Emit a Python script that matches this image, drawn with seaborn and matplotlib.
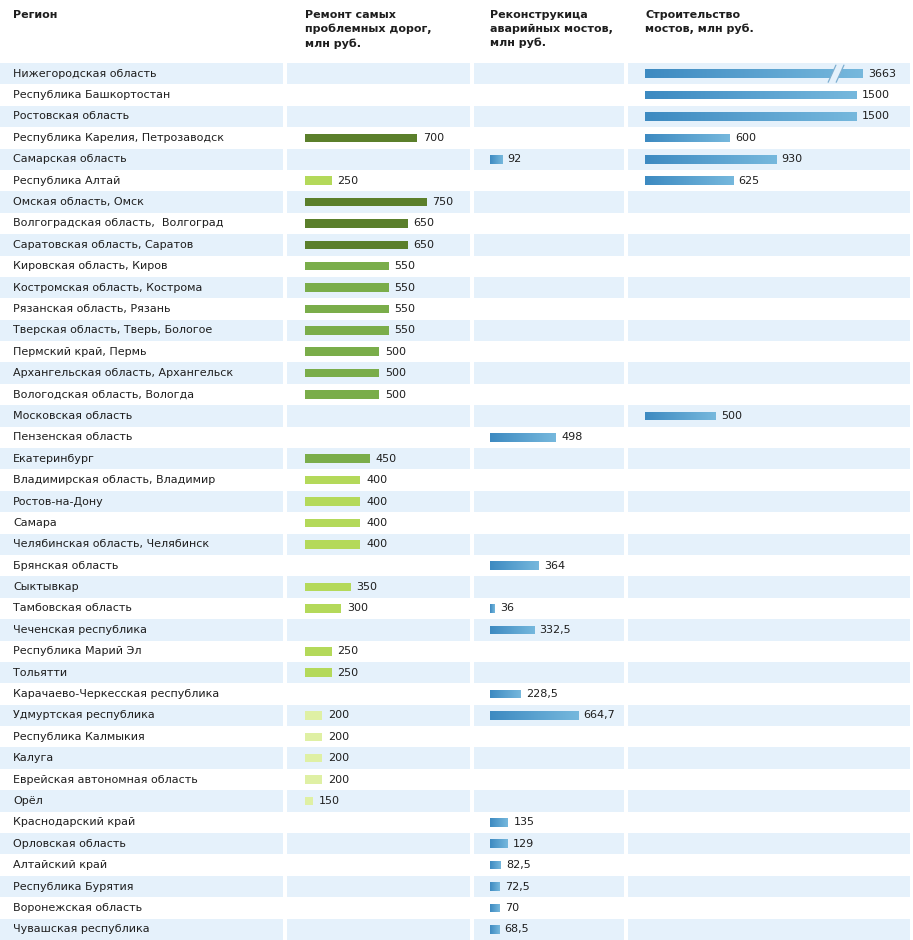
import numpy as np
import pandas as pd
import matplotlib
matplotlib.use("Agg")
import matplotlib.pyplot as plt
from matplotlib.colors import LinearSegmentedColormap
import seaborn as sns

regions = [
    "Нижегородская область", "Республика Башкортостан", "Ростовская область",
    "Республика Карелия, Петрозаводск", "Самарская область", "Республика Алтай",
    "Омская область, Омск", "Волгоградская область,  Волгоград", "Саратовская область, Саратов",
    "Кировская область, Киров", "Костромская область, Кострома", "Рязанская область, Рязань",
    "Тверская область, Тверь, Бологое", "Пермский край, Пермь", "Архангельская область, Архангельск",
    "Вологодская область, Вологда", "Московская область", "Пензенская область",
    "Екатеринбург", "Владимирская область, Владимир", "Ростов-на-Дону", "Самара",
    "Челябинская область, Челябинск", "Брянская область", "Сыктывкар", "Тамбовская область",
    "Чеченская республика", "Республика Марий Эл", "Тольятти",
    "Карачаево-Черкесская республика", "Удмуртская республика", "Республика Калмыкия",
    "Калуга", "Еврейская автономная область", "Орёл", "Краснодарский край",
    "Орловская область", "Алтайский край", "Республика Бурятия", "Воронежская область",
    "Чувашская республика",
]
nan = np.nan
road_repair = [nan, nan, nan, 700, nan, 250, 750, 650, 650, 550, 550, 550, 550, 500, 500, 500,
               nan, nan, 450, 400, 400, 400, 400, nan, 350, 300, nan, 250, 250, nan, 200, 200,
               200, 200, 150, nan, nan, nan, nan, nan, nan]
bridge_repair = [nan, nan, nan, nan, 92, nan, nan, nan, nan, nan, nan, nan, nan, nan, nan, nan,
                 nan, 498, nan, nan, nan, nan, nan, 364, nan, 36, 332.5, nan, nan, 228.5, 664.7,
                 nan, nan, nan, nan, 135, 129, 82.5, 72.5, 70, 68.5]
bridge_build = [3663, 1500, 1500, 600, 930, 625, nan, nan, nan, nan, nan, nan, nan, nan, nan, nan,
                500, nan, nan, nan, nan, nan, nan, nan, nan, nan, nan, nan, nan, nan, nan,
                nan, nan, nan, nan, nan, nan, nan, nan, nan, nan]

headers = ["Регион", "Ремонт самых\nпроблемных дорог,\nмлн руб.",
           "Реконструкица\nаварийных мостов,\nмлн руб.", "Строительство\nмостов, млн руб."]

W, H = 913, 940
TOP = 63
BAND = "#E5F1FB"
TEXT = "#1E1E1E"
FS = 8
ROAD_BASE = 108      # road bars in the original do not start at zero
BUILD_CAP = 1546     # the 3663 bar is drawn broken
TIER_COLORS = {"dark": "#5B7F2B", "mid": "#7AAD4A", "light": "#B4D95A", "pale": "#DFF0A4"}
BLUE_CMAP = LinearSegmentedColormap.from_list("bar", ["#3D8AC1", "#76B8DD"])
BAR_W = 0.4

sns.set_theme(style="white")
plt.rcParams["font.family"] = ["DejaVu Sans"]


def tier(v):
    if np.isnan(v):
        return np.nan
    if v >= 600:
        return "dark"
    if v >= 450:
        return "mid"
    if v >= 250:
        return "light"
    return "pale"


def fmt(v):
    return f"{v:g}".replace(".", ",")


df = pd.DataFrame({"region": regions, "road": road_repair,
                   "repair": bridge_repair, "build": bridge_build})
df["tier"] = [tier(v) for v in df["road"]]
df["road_len"] = df["road"] - ROAD_BASE
df["build_len"] = np.minimum(df["build"], BUILD_CAP)

n = len(regions)
fig = plt.figure(figsize=(W / 100, H / 100), dpi=100)


def px_axes(x0, x1):
    ax = fig.add_axes([x0 / W, 0, (x1 - x0) / W, (H - TOP) / H])
    return ax


def finish(ax, xlim):
    for i in range(0, n, 2):
        ax.axhspan(i - 0.5, i + 0.5, color=BAND, lw=0, zorder=0)
    ax.set_xlim(*xlim)
    ax.set_ylim(n - 0.5, -0.5)
    ax.axis("off")


def paint_gradient(ax):
    grad = np.linspace(0, 1, 256).reshape(1, -1)
    for p in list(ax.patches):
        w = p.get_width()
        if not np.isfinite(w) or w <= 0:
            continue
        x0, y0, h = p.get_x(), p.get_y(), p.get_height()
        im = ax.imshow(grad, cmap=BLUE_CMAP, aspect="auto", interpolation="bilinear",
                       extent=(x0, x0 + w, y0 + h, y0), zorder=3)
        im.set_clip_path(p)


def value_labels(ax, lengths, values):
    for i, (L, v) in enumerate(zip(lengths, values)):
        if np.isnan(v):
            continue
        ax.annotate(fmt(v), (L, i), xytext=(4, 0), textcoords="offset points",
                    va="center", ha="left", fontsize=FS, color=TEXT, zorder=5)


# region column
ax0 = px_axes(0, 283)
finish(ax0, (0, 283))
for i, name in enumerate(regions):
    ax0.text(13, i, name, va="center", ha="left", fontsize=FS, color=TEXT)

# road repair column (green)
ax1 = px_axes(287, 470)
sns.barplot(data=df, x="road_len", y="region", hue="tier", order=regions,
            hue_order=list(TIER_COLORS), palette=TIER_COLORS, dodge=False,
            width=BAR_W, saturation=1, legend=False, linewidth=0, ax=ax1, zorder=3)
value_labels(ax1, df["road_len"], df["road"])
finish(ax1, (-18 / 0.19, 165 / 0.19))

# bridge reconstruction column (blue)
ax2 = px_axes(474, 624)
sns.barplot(data=df, x="repair", y="region", order=regions, color="#4A95C9",
            width=BAR_W, saturation=1, linewidth=0, ax=ax2, zorder=3)
paint_gradient(ax2)
value_labels(ax2, df["repair"], df["repair"])
finish(ax2, (-16 / 0.1325, 134 / 0.1325))

# bridge construction column (blue, first bar broken)
ax3 = px_axes(628, 910)
sns.barplot(data=df, x="build_len", y="region", order=regions, color="#4A95C9",
            width=BAR_W, saturation=1, linewidth=0, ax=ax3, zorder=3)
paint_gradient(ax3)
value_labels(ax3, df["build_len"], df["build"])
for i, v in enumerate(bridge_build):
    if v > BUILD_CAP:
        ax3.fill([1305, 1348, 1405, 1362], [i + 0.32, i - 0.32, i - 0.32, i + 0.32],
                 color=BAND, lw=0, zorder=4)
        for x in (1305, 1362):
            ax3.plot([x - 6, x + 49], [i + 0.4, i - 0.4], color="#7FAFD0", lw=0.9, zorder=4)
finish(ax3, (-17 / 0.141, 265 / 0.141))

# headers
for x, label in zip([13, 305, 490, 645], headers):
    fig.text(x / W, 1 - 10 / H, label, ha="left", va="top", fontsize=FS,
             fontweight="bold", color=TEXT, linespacing=1.45)

fig.savefig("out.png", dpi=100, facecolor="white")
